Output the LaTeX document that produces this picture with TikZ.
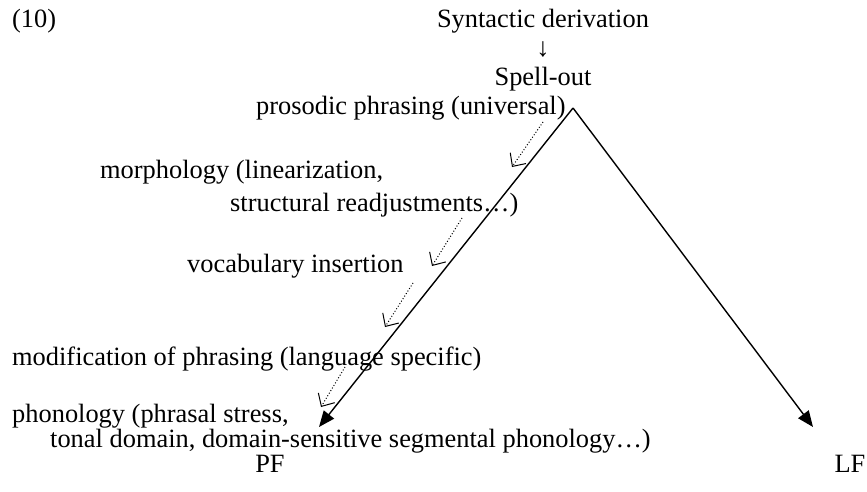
\documentclass[tikz,border=0pt]{standalone}
\usepackage{fontspec}
\setmainfont{Liberation Serif}
\usetikzlibrary{arrows.meta}

\begin{document}
\begin{tikzpicture}
[
x=1pt, y=-1pt,
Label/.style={inner sep=0pt, anchor=base west, font=\fontsize{26.4}{30}\selectfont},
Centre/.style={Label, anchor=base},
MainArrow/.style={-{Triangle[length=16pt,width=13pt]}, draw=black, line width=1.4pt},
DotArrow/.style={-{Straight Barb[length=10pt,width=19pt,line width=1pt]}, dotted, draw=black, line width=1pt},
]

\useasboundingbox (0,0) rectangle (867,492);

% heading
\node[Label] (num) at (12,28) {(10)};
\node[Centre] (syn) at (543,28) {Syntactic derivation};
\node[Centre] (down) at (543,57) {↓};
\node[Centre] (spell) at (543,86) {Spell-out};

% operations on the PF branch
\node[Label] (pros) at (256,114) {prosodic phrasing (universal)};
\node[Label] (morph) at (100,178) {morphology (linearization,};
\node[Label] (morph2) at (230,211) {structural readjustments…)};
\node[Label] (vocab) at (187,272) {vocabulary insertion};
\node[Label] (modif) at (12,365) {modification of phrasing (language specific)};
\node[Label] (phon) at (12,422) {phonology (phrasal stress,};
\node[Label] (phon2) at (50,447) {tonal domain, domain-sensitive segmental phonology…)};

\node[Centre] (pf) at (270,472) {PF};
\node[Centre] (lf) at (850,472) {LF};

% the two branches
\coordinate (apex) at (573,108);
\coordinate (pftip) at (319,427);
\coordinate (lftip) at (813,427);
\draw[MainArrow] (apex)--(pftip);
\draw[MainArrow] (apex)--(lftip);

% dotted arrows
\coordinate (d1a) at (543,122);
\coordinate (d1b) at (512,167);
\coordinate (d2a) at (462,218);
\coordinate (d2b) at (432,266);
\coordinate (d3a) at (413,283);
\coordinate (d3b) at (385,327);
\coordinate (d4a) at (345,367);
\coordinate (d4b) at (321,407);
\draw[DotArrow] (d1a)--(d1b);
\draw[DotArrow] (d2a)--(d2b);
\draw[DotArrow] (d3a)--(d3b);
\draw[DotArrow] (d4a)--(d4b);

\end{tikzpicture}
\end{document}
